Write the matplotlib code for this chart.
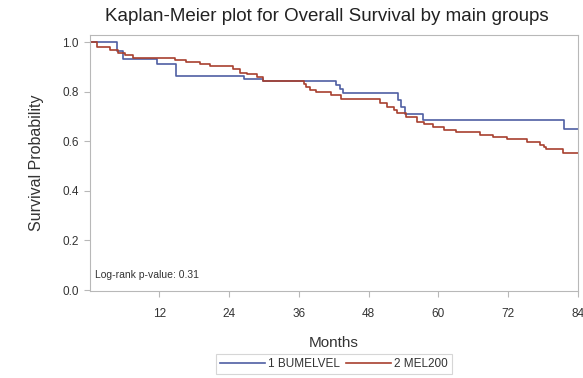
import matplotlib
matplotlib.use('Agg')
import matplotlib.pyplot as plt

plt.rcParams['font.family'] = ['Liberation Sans', 'DejaVu Sans']

# === Kaplan-Meier step data (time in months, survival after each drop) ===
bumelvel_t = [0, 4.6, 5.7, 11.6, 14.9, 26.5, 29.8, 42.4, 43.0, 43.6,
              53.0, 53.6, 54.3, 57.4, 81.6, 84]
bumelvel_s = [1.0, 0.965, 0.931, 0.911, 0.862, 0.853, 0.844, 0.825, 0.810, 0.793,
              0.765, 0.740, 0.712, 0.685, 0.648, 0.648]

mel200_t = [0, 1.3, 3.4, 4.8, 6.0, 7.5, 14.6, 16.6, 18.9, 20.7, 24.6, 25.8, 27.0,
            28.7, 29.8, 36.9, 37.3, 37.9, 39.0, 41.5, 43.3, 49.9, 51.1, 52.3, 52.8,
            54.5, 56.3, 57.5, 59.1, 61.0, 63.1, 67.2, 69.4, 71.8, 75.2, 77.5, 78.2,
            78.6, 81.5, 84]
mel200_s = [1.0, 0.981, 0.970, 0.958, 0.946, 0.937, 0.927, 0.918, 0.910, 0.903, 0.890,
            0.876, 0.870, 0.860, 0.844, 0.832, 0.820, 0.806, 0.797, 0.787, 0.769,
            0.753, 0.737, 0.726, 0.715, 0.696, 0.679, 0.669, 0.659, 0.647, 0.636,
            0.625, 0.616, 0.608, 0.598, 0.585, 0.576, 0.567, 0.551, 0.551]

group_labels = ['1 BUMELVEL', '2 MEL200']
x_ticks = [12, 24, 36, 48, 60, 72, 84]
y_ticks = [0.0, 0.2, 0.4, 0.6, 0.8, 1.0]
p_value = 0.31

blue = '#4f5fa3'
red = '#a8402f'
frame = '#b8b8b8'
txt = '#333333'

fig = plt.figure(figsize=(5.83, 3.78), dpi=100)
ax = fig.add_axes([0.154, 0.230, 0.837, 0.677])

ax.step(bumelvel_t, bumelvel_s, where='post', color=blue, lw=1.2, label=group_labels[0])
ax.step(mel200_t, mel200_s, where='post', color=red, lw=1.2, label=group_labels[1])

ax.set_xlim(0, 84)
ax.set_ylim(-0.004, 1.028)
ax.set_xticks(x_ticks)
ax.set_yticks(y_ticks)
ax.set_yticklabels([f'{v:.1f}' for v in y_ticks])

for s in ax.spines.values():
    s.set_color(frame)
ax.tick_params(colors=frame, labelcolor=txt, labelsize=8.5, length=4, width=0.8)
ax.tick_params(axis='x', pad=8)
ax.tick_params(axis='y', pad=4)

ax.set_title('Kaplan-Meier plot for Overall Survival by main groups', fontsize=13.5,
             color='#222222', pad=10, x=0.485)
ax.set_xlabel('Months', fontsize=11, color=txt, labelpad=12)
ax.set_ylabel('Survival Probability', fontsize=11.5, color=txt, labelpad=13)

ax.text(0.011, 0.045, f'Log-rank p-value: {p_value}', transform=ax.transAxes,
        fontsize=7.5, color=txt, ha='left', va='bottom')

leg = fig.legend(loc='center', bbox_to_anchor=(0.573, 0.037), ncol=2, fontsize=8.5,
                 frameon=True, fancybox=False, handlelength=3.8, columnspacing=0.5,
                 handletextpad=0.3, borderpad=0.35, labelcolor=txt)
leg.get_frame().set_edgecolor('#cccccc')
leg.get_frame().set_linewidth(0.8)

fig.savefig('out.png', dpi=100)
